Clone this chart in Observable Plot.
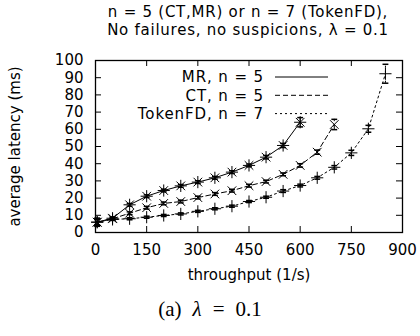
<!DOCTYPE html>
<html><head><meta charset="utf-8">
<script src="https://cdn.jsdelivr.net/npm/d3@7"></script>
<script src="https://cdn.jsdelivr.net/npm/@observablehq/plot@0.6"></script>
<style>
body{margin:0;background:#fff;font-family:"DejaVu Sans",sans-serif;color:#000}
#wrap{width:420px;height:336px;position:relative;overflow:hidden}
.title{position:absolute;left:76px;top:3px;width:344px;text-align:center;font-size:15px;line-height:18px;letter-spacing:0.75px}
#chart{position:absolute;left:0;top:40px}
.caption{position:absolute;top:296px;left:0;width:420px;text-align:center;font-family:"Liberation Serif","DejaVu Serif",serif;font-size:21px;line-height:26px}
.caption .g{display:inline-block;width:11px}
</style></head><body>
<div id="wrap">
  <div class="title">n = 5 (CT,MR) or n = 7 (TokenFD),<br>No failures, no suspicions, λ = 0.1</div>
  <div id="chart"></div>
  <div class="caption">(a)<span class="g"></span><i>λ</i><span class="g"></span>=<span class="g"></span>0.1</div>
</div>
<script>
// ---- data ----
const xTicks = [0, 150, 300, 450, 600, 750, 900];
const yTicks = [0, 10, 20, 30, 40, 50, 60, 70, 80, 90, 100];

const mrX   = [5, 50, 100, 150, 200, 250, 300, 350, 400, 450, 500, 550, 600];
const mrY   = [6.0, 8.3, 16.1, 21.1, 24.4, 27.1, 29.3, 31.8, 35.1, 39.0, 43.8, 50.6, 64.1];
const mrErr = [2.0, 0.8, 0.8, 0.8, 0.8, 0.8, 0.8, 0.8, 0.8, 0.8, 1.0, 1.2, 2.7];

const ctX   = [5, 50, 100, 150, 200, 250, 300, 350, 400, 450, 500, 550, 600, 650, 700];
const ctY   = [6.0, 8.0, 11.2, 14.4, 16.9, 18.0, 20.3, 22.4, 24.3, 27.2, 29.6, 33.8, 39.0, 46.7, 62.8];
const ctErr = [2.4, 0.8, 0.8, 0.8, 0.8, 0.8, 0.8, 0.8, 0.8, 0.8, 0.8, 0.8, 1.0, 1.2, 3.0];

const tfX   = [5, 50, 100, 150, 200, 250, 300, 350, 400, 450, 500, 550, 600, 650, 700, 750, 800, 850];
const tfY   = [6.0, 7.6, 8.0, 8.9, 9.9, 10.8, 12.3, 13.8, 15.3, 18.0, 20.5, 24.1, 27.3, 31.8, 37.9, 46.3, 60.3, 92.3];
const tfErr = [1.5, 0.6, 0.6, 0.6, 0.6, 0.6, 0.6, 0.6, 0.6, 0.6, 0.6, 0.8, 0.8, 0.8, 1.0, 1.5, 2.0, 5.5];

const seriesNames = ["MR, n = 5", "CT, n = 5", "TokenFD, n = 7"];
const dashes = ["none", "5,3", "2,3"];

// ---- layout ----
const W = 420, H = 248, mL = 95, mR = 18, mT = 20, mB = 56;
const fw = W - mL - mR, fh = H - mT - mB, tickLen = 6;

const rows = [];
[[mrX, mrY, mrErr], [ctX, ctY, ctErr], [tfX, tfY, tfErr]].forEach(([xs, ys, es], s) => {
  xs.forEach((x, i) => rows.push({s, x, y: ys[i], lo: ys[i] - es[i], hi: ys[i] + es[i]}));
});
const of = s => rows.filter(d => d.s === s);

const capSymbol = {draw(ctx, size) { const r = Math.sqrt(size) * 0.55; ctx.moveTo(-r, 0); ctx.lineTo(r, 0); }};

function legend(index, scales, values, dims) {
  const g = d3.create("svg:g").attr("font-size", 15).attr("font-family", "DejaVu Sans, sans-serif")
    .attr("letter-spacing", "0.9px");
  const xr = dims.width - dims.marginRight;
  seriesNames.forEach((name, i) => {
    const y = dims.marginTop + 17 + i * 18.3;
    g.append("text").attr("x", xr - 138).attr("y", y).attr("text-anchor", "end")
      .attr("dy", "0.35em").attr("fill", "black").text(name);
    g.append("line").attr("x1", xr - 127).attr("x2", xr - 74).attr("y1", y).attr("y2", y)
      .attr("stroke", "black").attr("stroke-dasharray", dashes[i]);
  });
  return g.node();
}

const marks = [
  Plot.ruleX(xTicks, {insetTop: fh - tickLen, stroke: "black"}),
  Plot.ruleX(xTicks, {insetBottom: fh - tickLen, stroke: "black"}),
  Plot.ruleY(yTicks, {insetRight: fw - tickLen, stroke: "black"}),
  Plot.ruleY(yTicks, {insetLeft: fw - tickLen, stroke: "black"}),
  Plot.axisX({ticks: xTicks, tickSize: 0, tickPadding: 12, label: null, fontSize: 15}),
  Plot.axisY({ticks: yTicks, tickSize: 0, tickPadding: 12, label: null, fontSize: 15}),
  Plot.text(["average latency (ms)"], {text: d => d, frameAnchor: "left", dx: -80, rotate: -90,
    textAnchor: "middle", lineAnchor: "middle", fontSize: 15, letterSpacing: 0.8}),
  Plot.text(["throughput (1/s)"], {text: d => d, frameAnchor: "bottom", dy: 43,
    textAnchor: "middle", lineAnchor: "middle", fontSize: 15, letterSpacing: 0.8}),
];
[0, 1, 2].forEach(s => {
  const d = of(s), dash = dashes[s];
  marks.push(Plot.line(d, {x: "x", y: "y", stroke: "black", strokeWidth: 1, strokeDasharray: dash}));
  marks.push(Plot.ruleX(d, {x: "x", y1: "lo", y2: "hi", stroke: "black", strokeDasharray: dash}));
  marks.push(Plot.dot(d, {x: "x", y: "lo", symbol: capSymbol, r: 3, fill: "none", stroke: "black"}));
  marks.push(Plot.dot(d, {x: "x", y: "hi", symbol: capSymbol, r: 3, fill: "none", stroke: "black"}));
});
marks.push(Plot.dot(of(0), {x: "x", y: "y", symbol: "plus", r: 4, stroke: "black", strokeWidth: 1}));
marks.push(Plot.dot(of(0), {x: "x", y: "y", symbol: "times", r: 4, stroke: "black", strokeWidth: 1}));
marks.push(Plot.dot(of(1), {x: "x", y: "y", symbol: "times", r: 4, stroke: "black", strokeWidth: 1}));
marks.push(Plot.dot(of(2), {x: "x", y: "y", symbol: "plus", r: 4, stroke: "black", strokeWidth: 1}));
marks.push(legend);
marks.push(Plot.frame({stroke: "black", strokeWidth: 1.3}));

const chart = Plot.plot({
  width: W, height: H, marginLeft: mL, marginRight: mR, marginTop: mT, marginBottom: mB,
  x: {domain: [0, 900]},
  y: {domain: [0, 100]},
  style: {fontSize: "15px", fontFamily: "DejaVu Sans, sans-serif", color: "black", background: "white", overflow: "visible"},
  marks
});
document.getElementById("chart").appendChild(chart);
</script>
</body></html>
